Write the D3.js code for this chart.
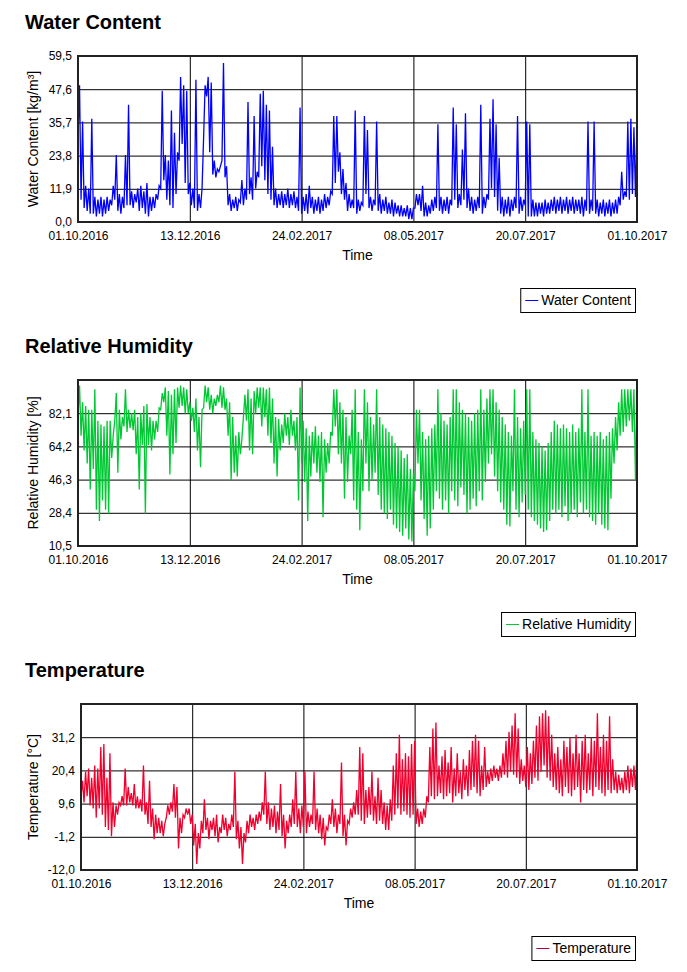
<!doctype html>
<html>
<head>
    <meta charset="utf-8">
    <script src="https://cdn.jsdelivr.net/npm/d3@7"></script>
</head>
<style>
    body { margin: 0; background: #fff; }
    svg text { font-family: "Liberation Sans", Arial, sans-serif; fill: #000; }
    .title { font-size: 20px; font-weight: bold; }
    .tick text { font-size: 12px; }
    .axislabel { font-size: 14px; }
    .legend text { font-size: 14px; }
</style>
<body>
<script>
    // x axis (dates), one sample pair (low, high) every 2 days
    var startDate = "01.10.2016";
    var stepDays = 2;
    var xTickLabels = ["01.10.2016", "13.12.2016", "24.02.2017", "08.05.2017", "20.07.2017", "01.10.2017"];

    // Water Content [kg/m³]
    var wcLow = [30,8,5,4,3,3,2,3,2,3,4,6,8,4,3,5,6,6,5,7,4,5,3,2,4,5,8,12,15,8,6,5,10,22,28,14,10,6,5,4,5,30,45,25,17,16,18,22,16,6,
                 4,5,4,7,6,8,10,8,12,16,20,15,10,8,6,5,6,5,6,5,6,5,4,3,4,3,5,3,4,3,4,5,6,10,14,18,10,8,4,5,5,3,4,6,10,5,4,6,4,3,
                 4,3,3,2,3,2,2,2,1,1,5,6,4,2,2,3,4,5,4,3,4,3,6,8,5,6,8,5,4,3,4,5,3,5,8,12,9,4,3,2,3,2,4,5,3,4,6,2,2,2,
                 2,3,2,3,3,4,3,4,3,4,3,4,3,4,3,2,4,3,4,3,2,3,2,3,2,3,3,6,8,9,8,10,9,6,5];
    var wcHigh = [49,36,13,12,37,9,8,9,8,9,8,13,24,10,9,24,42,11,10,12,13,11,14,9,9,10,13,47,24,22,40,32,25,52,49,47,14,12,51,10,12,49,52,50,22,19,20,57,20,10,
                  8,9,8,15,12,43,16,38,18,46,47,42,40,27,12,10,11,10,12,10,11,9,41,9,10,13,9,8,9,8,10,9,11,38,38,25,19,14,10,8,40,8,7,38,33,9,8,36,10,8,
                  9,7,8,7,6,6,5,6,5,5,10,10,13,7,6,8,9,35,9,8,9,8,41,35,10,26,39,12,9,8,9,42,9,10,37,44,35,23,9,8,9,8,9,38,9,8,36,35,8,7,
                  7,7,8,7,8,9,8,9,8,9,8,9,8,8,9,8,36,8,36,8,7,8,7,8,7,8,9,18,11,36,37,34,36,30,37];
    var wcTicks = [0, 11.9, 23.8, 35.7, 47.6, 59.5];
    var wcTickLabels = ["0,0", "11,9", "23,8", "35,7", "47,6", "59,5"];

    // Relative Humidity [%]
    var rhLow = [80,70,62,55,41,52,30,24,35,30,28,58,78,50,68,75,72,74,73,60,41,65,28,65,62,68,72,84,88,70,49,60,66,85,86,82,82,78,72,62,53,85,88,84,82,86,88,85,84,70,
                 46,50,48,60,80,78,62,60,82,85,75,80,70,66,55,48,62,66,70,65,70,62,35,55,45,24,48,55,50,45,26,50,55,70,75,60,55,36,45,60,35,30,19,40,55,40,46,50,38,30,
                 28,25,30,22,20,18,16,20,14,13,40,55,35,25,16,20,30,40,36,30,35,28,40,35,32,42,38,28,30,36,32,40,35,45,55,60,48,40,34,30,22,21,40,30,26,34,38,30,26,24,
                 22,20,18,19,24,30,28,30,26,32,24,28,30,26,34,28,30,26,24,22,28,22,20,19,36,55,62,70,72,75,78,72,46];
    var rhHigh = [97,88,86,84,84,95,78,76,75,78,78,70,93,84,80,95,84,82,84,80,82,86,87,80,78,78,85,93,96,94,92,95,96,97,96,95,88,85,90,80,84,97,96,92,90,92,97,96,90,88,
                  80,70,72,68,92,95,90,94,96,96,96,95,96,90,80,79,76,82,80,84,78,80,96,78,74,70,72,75,70,72,68,66,72,95,95,88,84,80,70,84,95,72,68,95,88,80,76,95,80,76,
                  74,72,70,66,64,62,58,60,52,50,84,84,72,68,70,74,76,95,82,78,76,80,95,95,88,84,82,80,78,82,84,95,84,90,95,95,88,84,80,76,72,70,95,80,74,78,95,95,72,68,
                  66,64,62,66,72,78,76,74,76,74,72,76,72,74,95,72,95,70,72,70,72,68,70,72,74,80,88,95,95,95,95,95,95];
    var rhTicks = [10.5, 28.4, 46.3, 64.2, 82.1];
    var rhTickLabels = ["10,5", "28,4", "46,3", "64,2", "82,1"];
    var rhMax = 100;

    // Temperature [°C]
    var tLow = [12,10,12,9,8,5,8,6,2,1,-1,2,6,9,9,9,10,9,8,8,7,6,3,2,-2,0,0,-1,5,6,7,5,-5,0,5,6,3,-4,-10,-5,0,1,-2,1,-1,-3,0,1,-1,1,
                2,-2,-5,-10,-3,0,2,1,3,4,6,3,1,2,0,1,-1,-5,0,2,3,2,0,2,0,2,3,1,0,-2,-4,1,3,2,0,3,-1,-4,3,5,6,6,4,3,5,6,4,3,4,3,
                1,1,4,6,8,6,7,6,5,6,3,2,3,5,10,12,11,12,13,11,12,13,10,12,13,11,14,12,14,15,13,12,14,15,16,17,18,17,18,19,18,20,19,18,16,17,15,14,16,18,
                17,20,22,18,17,15,14,13,12,15,13,12,14,15,10,14,13,14,12,15,14,13,12,14,13,14,13,14,13,14,13,15,14];
    var tHigh = [17,20,21,18,22,21,28,29,18,26,10,9,10,12,21,15,13,16,12,11,22,10,17,8,6,5,4,3,9,10,16,15,5,6,8,8,6,3,0,4,11,5,4,5,6,2,6,5,3,6,
                 20,4,2,0,4,6,5,6,7,10,20,10,8,9,7,16,6,4,6,11,20,8,9,20,7,6,20,8,6,5,2,6,11,8,6,23,6,4,8,10,14,28,26,14,15,20,12,18,14,10,
                 9,11,22,26,32,24,26,25,29,30,8,7,8,12,28,34,36,22,25,27,23,28,21,26,20,24,22,27,30,32,30,22,28,20,21,22,21,22,26,30,33,35,39,34,24,22,28,26,30,35,
                 38,39,40,38,32,26,28,24,30,28,31,26,32,26,30,32,26,31,30,39,28,32,30,38,24,20,19,18,20,22,21,22,27];
    var tTicks = [-12, -1.2, 9.6, 20.4, 31.2];
    var tTickLabels = ["-12,0", "-1,2", "9,6", "20,4", "31,2"];
    var tMax = 42;

    var parseDate = d3.timeParse("%d.%m.%Y");
    var x0 = parseDate(startDate);

    var charts = [
        {title: "Water Content", ylabel: "Water Content [kg/m³]", low: wcLow, high: wcHigh,
         ticks: wcTicks, labels: wcTickLabels, ymax: 59.5, color: "#0000ff", legendColor: "#0000ff", left: 78},
        {title: "Relative Humidity", ylabel: "Relative Humidity [%]", low: rhLow, high: rhHigh,
         ticks: rhTicks, labels: rhTickLabels, ymax: rhMax, color: "#00c832", legendColor: "#00c832", left: 78},
        {title: "Temperature", ylabel: "Temperature [°C]", low: tLow, high: tHigh,
         ticks: tTicks, labels: tTickLabels, ymax: tMax, color: "#f0002d", legendColor: "#b4003c", left: 81}
    ];

    var svg = d3.select("body").append("svg")
        .attr("width", 687)
        .attr("height", 972);

    charts.forEach(function(c, k) {
        var off = k * 324;
        var top = 56 + off, bottom = 222 + off, right = 637;

        var x = d3.scaleTime()
            .domain([x0, parseDate(xTickLabels[xTickLabels.length - 1])])
            .range([c.left, right]);
        var y = d3.scaleLinear()
            .domain([c.ticks[0], c.ymax])
            .range([bottom, top]);

        var g = svg.append("g");

        g.append("text").attr("class", "title")
            .attr("x", 25).attr("y", 29 + off)
            .text(c.title);

        g.append("rect")
            .attr("x", c.left).attr("y", top)
            .attr("width", right - c.left).attr("height", bottom - top)
            .attr("fill", "#fff");

        // gridlines
        var xDates = xTickLabels.map(parseDate);
        g.append("g").attr("transform", "translate(0," + bottom + ")")
            .call(d3.axisBottom(x).tickValues(xDates).tickSize(-(bottom - top)).tickFormat(""))
            .call(function(s) { s.select(".domain").remove(); s.selectAll("line").attr("stroke", "#000"); });
        g.append("g").attr("transform", "translate(" + c.left + ",0)")
            .call(d3.axisLeft(y).tickValues(c.ticks).tickSize(-(right - c.left)).tickFormat(""))
            .call(function(s) { s.select(".domain").remove(); s.selectAll("line").attr("stroke", "#000"); });

        // series: low/high pair per sample
        var pts = [];
        c.low.forEach(function(v, i) {
            pts.push([d3.timeDay.offset(x0, i * stepDays), v]);
            pts.push([d3.timeDay.offset(x0, i * stepDays + 1), c.high[i]]);
        });
        var clipId = "clip" + k;
        svg.append("clipPath").attr("id", clipId)
            .append("rect").attr("x", c.left).attr("y", top)
            .attr("width", right - c.left).attr("height", bottom - top);
        g.append("path")
            .datum(pts)
            .attr("clip-path", "url(#" + clipId + ")")
            .attr("fill", "none")
            .attr("stroke", c.color)
            .attr("stroke-width", 1.3)
            .attr("d", d3.line().x(function(d) { return x(d[0]); }).y(function(d) { return y(d[1]); }));

        // frame
        g.append("rect")
            .attr("x", c.left).attr("y", top)
            .attr("width", right - c.left).attr("height", bottom - top)
            .attr("fill", "none").attr("stroke", "#222").attr("stroke-width", 2);

        // tick labels
        g.append("g").attr("transform", "translate(" + c.left + ",0)")
            .call(d3.axisLeft(y).tickValues(c.ticks).tickSize(0).tickPadding(6)
                .tickFormat(function(d, i) { return c.labels[i]; }))
            .call(function(s) { s.select(".domain").remove(); s.attr("font-family", null).attr("font-size", null); });
        g.append("g").attr("transform", "translate(0," + bottom + ")")
            .call(d3.axisBottom(x).tickValues(xDates).tickSize(0).tickPadding(9)
                .tickFormat(function(d, i) { return xTickLabels[i]; }))
            .call(function(s) { s.select(".domain").remove(); s.attr("font-family", null).attr("font-size", null); });

        g.append("text").attr("class", "axislabel")
            .attr("x", (c.left + right) / 2).attr("y", 260 + off)
            .attr("text-anchor", "middle")
            .text("Time");
        g.append("text").attr("class", "axislabel")
            .attr("transform", "translate(38," + ((top + bottom) / 2) + ") rotate(-90)")
            .attr("text-anchor", "middle")
            .text(c.ylabel);

        // legend
        var lg = g.append("g").attr("class", "legend");
        var lt = lg.append("text").attr("x", 0).attr("y", 305 + off).text(c.title);
        var tw = lt.node().getComputedTextLength();
        var bx = 636 - (tw + 26);
        lt.attr("x", bx + 21);
        lg.insert("rect", "text")
            .attr("x", bx + 0.5).attr("y", 288.5 + off)
            .attr("width", tw + 25).attr("height", 24)
            .attr("fill", "#fff").attr("stroke", "#000");
        lg.append("line")
            .attr("x1", bx + 5).attr("x2", bx + 18)
            .attr("y1", 300.5 + off).attr("y2", 300.5 + off)
            .attr("stroke", c.legendColor);
    });
</script>
</body>
</html>
